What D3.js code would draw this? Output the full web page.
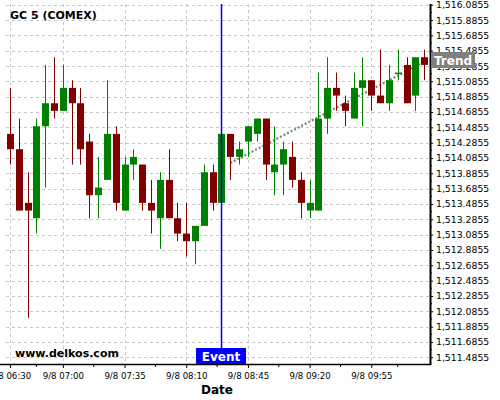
<!DOCTYPE html>
<html><head><meta charset="utf-8">
<script src="https://cdn.jsdelivr.net/npm/d3@7"></script>
<style>html,body{margin:0;padding:0;background:#fff;} svg{display:block;font-family:"DejaVu Sans",sans-serif;}</style>
</head><body><svg id="c" width="500" height="400"></svg>
<script>
const times = ["06:30","06:35","06:40","06:45","06:50","06:55","07:00","07:05","07:10","07:15","07:20","07:25","07:30","07:35","07:40","07:45",
"07:50","07:55","08:00","08:05","08:10","08:15","08:20","08:25","08:30","08:35","08:40","08:45","08:50","08:55","09:00","09:05",
"09:10","09:15","09:20","09:25","09:30","09:35","09:40","09:45","09:50","09:55","10:00","10:05","10:10","10:15","10:20","10:25"];
const opens  = [1514.4,1514.2,1513.5,1513.3,1514.5,1514.8,1514.7,1515.0,1514.8,1514.3,1513.6,1513.8,1514.4,1513.4,1514.0,1514.0,
1513.5,1513.3,1513.8,1513.3,1513.1,1513.0,1513.2,1513.9,1513.5,1514.4,1514.1,1514.3,1514.4,1514.6,1513.9,1514.0,
1514.1,1513.8,1513.4,1513.4,1514.6,1515.0,1514.8,1514.6,1515.0,1515.1,1514.9,1514.8,1515.2,1515.3,1514.9,1515.4];
const highs  = [1515.0,1514.6,1513.9,1514.6,1515.3,1515.4,1515.3,1515.1,1515.0,1514.4,1514.1,1515.1,1514.5,1514.1,1514.2,1514.0,
1513.8,1513.9,1514.2,1513.5,1513.5,1513.2,1514.0,1514.0,1514.4,1514.4,1514.3,1514.5,1514.6,1514.6,1514.5,1514.3,
1514.3,1513.9,1513.8,1515.2,1515.4,1515.2,1514.9,1515.2,1515.4,1515.1,1515.5,1515.3,1515.5,1515.4,1515.4,1515.5];
const lows   = [1514.0,1513.4,1512.0,1513.1,1513.7,1514.6,1514.7,1514.0,1514.0,1513.3,1513.3,1513.8,1513.4,1513.4,1513.8,1513.4,
1513.1,1512.9,1513.3,1513.0,1512.8,1512.7,1513.2,1513.4,1513.5,1513.8,1514.0,1514.1,1514.3,1513.8,1513.6,1513.6,
1513.7,1513.3,1513.3,1513.4,1514.4,1514.7,1514.5,1514.6,1514.5,1514.7,1514.8,1514.7,1515.1,1514.8,1514.7,1515.1];
const closes = [1514.2,1513.4,1513.4,1514.5,1514.8,1514.7,1515.0,1514.8,1514.2,1513.6,1513.7,1514.4,1513.5,1514.0,1514.1,1513.5,
1513.4,1513.8,1513.3,1513.1,1513.0,1513.2,1513.9,1513.5,1514.4,1514.1,1514.2,1514.5,1514.6,1514.0,1514.0,1514.2,
1513.8,1513.5,1513.5,1514.6,1515.0,1514.9,1514.7,1515.0,1515.1,1514.9,1514.8,1515.1,1515.2,1514.8,1515.4,1515.3];
const bullish = [0,0,0,1,1,0,1,0,0,0,1,1,0,1,1,0,0,1,0,0,0,1,1,0,1,0,1,1,1,0,1,1,0,0,1,1,1,0,0,1,1,0,0,1,1,0,1,0];
const xTickTimes = ["06:30","07:00","07:35","08:10","08:45","09:20","09:55"];
const yTickValues = [1511.4855,1511.6855,1511.8855,1512.0855,1512.2855,1512.4855,1512.6855,1512.8855,1513.0855,1513.2855,1513.4855,1513.6855,
1513.8855,1514.0855,1514.2855,1514.4855,1514.6855,1514.8855,1515.0855,1515.2855,1515.4855,1515.6855,1515.8855,1516.0855];
const eventTime = "08:30";
const trendTimes = ["08:35","10:25"];
const trendValues = [1514.02,1515.34];
const title = "GC 5 (COMEX)";

const parse = s => { const [h,m] = s.split(":").map(Number); return new Date(2011,8,8,h,m); };
const fmtTime = d3.timeFormat("%H:%M");
const svg = d3.select("#c");
const L = 6, R = 430, T = 4, B = 364;
const x = d3.scaleTime().domain([parse("06:30"), parse("09:55")]).range([10, 371.3]);
const y = d3.scaleLinear().domain([1511.4855, 1516.0855]).range([357.3, 4.7]);

// grid
const grid = svg.append("g").attr("stroke","#c8c8c8").attr("stroke-dasharray","3,3").attr("stroke-width",1);
yTickValues.forEach(v => grid.append("line").attr("x1",L).attr("x2",R).attr("y1",Math.round(y(v))+0.5).attr("y2",Math.round(y(v))+0.5));
xTickTimes.forEach(t => grid.append("line").attr("x1",Math.round(x(parse(t)))+0.5).attr("x2",Math.round(x(parse(t)))+0.5).attr("y1",T).attr("y2",B));

// trend line
svg.append("line")
  .attr("x1", x(parse(trendTimes[0]))).attr("y1", y(trendValues[0]))
  .attr("x2", x(parse(trendTimes[1]))).attr("y2", y(trendValues[1]))
  .attr("stroke","#808080").attr("stroke-width",2.2).attr("stroke-dasharray","2,2");

// candles
const data = times.map((t,i)=>({t:parse(t),o:opens[i],h:highs[i],l:lows[i],c:closes[i],up:bullish[i]}));
const cg = svg.append("g");
data.forEach(d => {
  const cx = Math.round(x(d.t));
  const col = d.up ? "#008000" : "#800000";
  cg.append("line").attr("x1",cx+0.5).attr("x2",cx+0.5).attr("y1",y(d.h)).attr("y2",y(d.l)).attr("stroke",col).attr("stroke-width",1);
  const top = Math.min(y(d.o),y(d.c)), hgt = Math.max(Math.abs(y(d.o)-y(d.c)),1.5);
  cg.append("rect").attr("x",cx-3).attr("width",7).attr("y",top).attr("height",hgt).attr("fill",col);
});

// event line
const ex = Math.round(x(parse(eventTime)));
svg.append("line").attr("x1",ex+0.5).attr("x2",ex+0.5).attr("y1",T).attr("y2",B).attr("stroke","#0000d0").attr("stroke-width",1.5);

// axes
const yAxis = d3.axisRight(y).tickValues(yTickValues).tickSize(3).tickPadding(3).tickFormat(d3.format(",.4f"));
const ya = svg.append("g").attr("transform",`translate(${R},0)`).call(yAxis);
ya.select(".domain").remove();
ya.selectAll("text").attr("font-size","9.3px").attr("font-family","DejaVu Sans").attr("fill","#000");
const minorY = d3.pairs(yTickValues).map(p => (p[0]+p[1])/2);
minorY.forEach(v => svg.append("line").attr("x1",R).attr("x2",R+2).attr("y1",y(v)).attr("y2",y(v)).attr("stroke","#000"));

const xAxis = d3.axisBottom(x).tickValues(xTickTimes.map(parse)).tickSize(4).tickPadding(5).tickFormat(d => "9/8 " + fmtTime(d));
const xa = svg.append("g").attr("transform",`translate(0,${B})`).call(xAxis);
xa.select(".domain").remove();
xa.selectAll("text").attr("font-size","8.6px").attr("font-family","DejaVu Sans").attr("fill","#000");
const xt = xTickTimes.map(parse);
d3.pairs(xt).forEach(p => { const mx = (x(p[0])+x(p[1]))/2; svg.append("line").attr("x1",mx).attr("x2",mx).attr("y1",B).attr("y2",B+3).attr("stroke","#000"); });
[x(xt[xt.length-1]) + (x(xt[1])-x(xt[0]))/2].forEach(mx => { if (mx < R) svg.append("line").attr("x1",mx).attr("x2",mx).attr("y1",B).attr("y2",B+3).attr("stroke","#000"); });

svg.append("line").attr("x1",0).attr("x2",R+1).attr("y1",B+0.5).attr("y2",B+0.5).attr("stroke","#000").attr("stroke-width",1.5);
svg.append("line").attr("x1",R+0.5).attr("x2",R+0.5).attr("y1",T).attr("y2",B+1).attr("stroke","#000").attr("stroke-width",2);

// labels
svg.append("text").attr("x",10).attr("y",19.3).attr("font-size","11px").attr("font-weight","bold").text(title);
svg.append("text").attr("x",15).attr("y",357).attr("font-size","11px").attr("font-weight","bold").text("www.delkos.com");
svg.append("text").attr("x",217).attr("y",394).attr("text-anchor","middle").attr("font-size","12px").attr("font-weight","bold").text("Date");

// Event label
svg.append("rect").attr("x",196).attr("y",348).attr("width",50).attr("height",16).attr("fill","#0000ff");
svg.append("text").attr("x",221).attr("y",361).attr("text-anchor","middle").attr("font-size","12px").attr("font-weight","bold").attr("fill","#fff").text("Event");
// Trend label
svg.append("rect").attr("x",431).attr("y",52).attr("width",44).attr("height",16).attr("fill","#808080");
svg.append("text").attr("x",453).attr("y",64.5).attr("text-anchor","middle").attr("font-size","12px").attr("font-weight","bold").attr("fill","#fff").text("Trend");
</script></body></html>
